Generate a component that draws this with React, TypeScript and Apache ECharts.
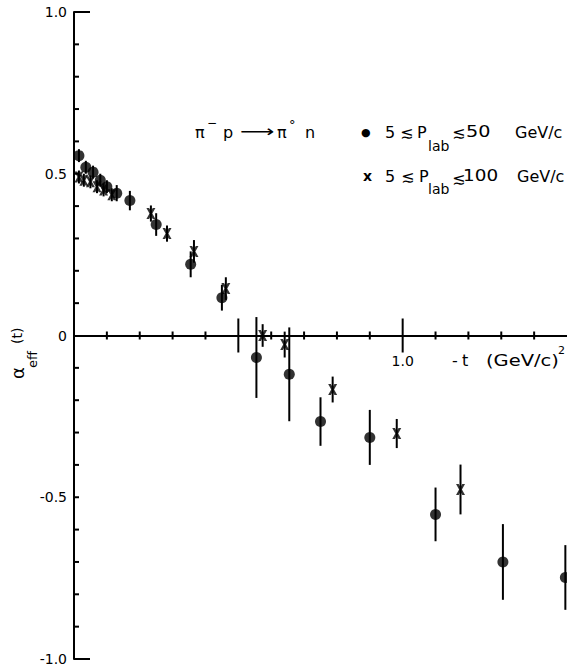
import React, { useEffect, useRef } from "react";
import * as echarts from "echarts";

// π⁻p → π⁰n effective trajectory α_eff(t) versus −t
// ● 5 ≲ P_lab ≲ 50 GeV/c
const circleT = [0.015, 0.036, 0.058, 0.08, 0.10, 0.13, 0.17, 0.25, 0.355, 0.45, 0.555, 0.655, 0.75, 0.90, 1.10, 1.305, 1.495];
const circleAlpha = [0.556, 0.52, 0.505, 0.48, 0.46, 0.44, 0.417, 0.343, 0.22, 0.117, -0.068, -0.12, -0.266, -0.315, -0.553, -0.70, -0.748];
const circleErr = [0.02, 0.02, 0.02, 0.02, 0.02, 0.025, 0.03, 0.035, 0.04, 0.04, 0.125, 0.145, 0.075, 0.085, 0.083, 0.117, 0.1];

// × 5 ≲ P_lab ≲ 100 GeV/c
const crossT = [0.015, 0.03, 0.05, 0.07, 0.09, 0.115, 0.234, 0.283, 0.365, 0.462, 0.574, 0.641, 0.787, 0.982, 1.176];
const crossAlpha = [0.49, 0.48, 0.475, 0.46, 0.45, 0.435, 0.377, 0.315, 0.26, 0.145, 0.0, -0.028, -0.167, -0.303, -0.476];
const crossErr = [0.02, 0.02, 0.02, 0.02, 0.02, 0.02, 0.025, 0.025, 0.035, 0.035, 0.035, 0.04, 0.04, 0.045, 0.077];

// axis tick positions
const xMinorTicks = [0.1, 0.2, 0.3, 0.4, 0.6, 0.7, 0.8, 0.9, 1.1, 1.2, 1.3, 1.4];
const xMajorTicks = [0.5, 1.0];
const yMinorTicks = [-0.9, -0.8, -0.7, -0.6, -0.5, -0.4, -0.3, -0.2, -0.1, 0.1, 0.2, 0.3, 0.4, 0.5, 0.6, 0.7, 0.8, 0.9];
const yEndTicks = [-1, 1];

const yTickValues = [-1, -0.5, 0, 0.5, 1];
const yTickLabels = ["-1.0", "-0.5", "0", "0.5", "1.0"];
const xTickLabelValues = [1.0];
const xTickLabels = ["1.0"];

const FONT = "DejaVu Sans";
const INK = "#000";

const CROSS_PATH =
  "path://M0,0 L3,0 L5,3.6 L7,0 L10,0 L6.6,6 L10,12 L7,12 L5,8.4 L3,12 L0,12 L3.4,6 Z";

function vTick(up: number, down: number) {
  return (_p: any, api: any) => {
    const p = api.coord([api.value(0), api.value(1)]);
    return {
      type: "line",
      shape: { x1: p[0], y1: p[1] - up, x2: p[0], y2: p[1] + down },
      style: { stroke: INK, lineWidth: 2 },
    };
  };
}

function hTick(len: number) {
  return (_p: any, api: any) => {
    const p = api.coord([api.value(0), api.value(1)]);
    return {
      type: "line",
      shape: { x1: p[0], y1: p[1], x2: p[0] + len, y2: p[1] },
      style: { stroke: INK, lineWidth: 2 },
    };
  };
}

function errorBar(_p: any, api: any) {
  const t = api.value(0);
  const a = api.coord([t, api.value(1)]);
  const b = api.coord([t, api.value(2)]);
  return {
    type: "line",
    shape: { x1: a[0], y1: a[1], x2: b[0], y2: b[1] },
    style: { stroke: INK, lineWidth: 2 },
  };
}

// tick label hanging under the x axis line (which sits at α = 0)
function xTickLabel(params: any, api: any) {
  const p = api.coord([api.value(0), 0]);
  return {
    type: "text",
    x: p[0],
    y: p[1] + 25,
    style: {
      text: xTickLabels[params.dataIndex],
      fontFamily: FONT,
      fontSize: 14,
      fill: INK,
      align: "center",
      verticalAlign: "middle",
    },
  };
}

function txt(text: string, x: number, y: number, size: number, extra: any = {}) {
  return {
    type: "text",
    x,
    y,
    ...(extra.node || {}),
    style: {
      text,
      fontFamily: FONT,
      fontSize: size,
      fill: INK,
      align: "left",
      verticalAlign: "middle",
      ...(extra.style || {}),
    },
  };
}

export default function App() {
  const ref = useRef<HTMLDivElement>(null);

  useEffect(() => {
    const chart = echarts.init(ref.current!, null, { renderer: "svg" });

    const circleBars = circleT.map((t, i) => [t, circleAlpha[i] - circleErr[i], circleAlpha[i] + circleErr[i]]);
    const crossBars = crossT.map((t, i) => [t, crossAlpha[i] - crossErr[i], crossAlpha[i] + crossErr[i]]);

    chart.setOption({
      animation: false,
      backgroundColor: "#fff",
      grid: { left: 74, right: 0, top: 12, bottom: 12, containLabel: false, outerBoundsMode: "none" },
      xAxis: {
        type: "value",
        min: 0,
        max: 1.5,
        interval: 0.5,
        axisLine: { show: true, onZero: true, lineStyle: { color: INK, width: 2 } },
        axisTick: { show: false },
        splitLine: { show: false },
        axisLabel: { show: false },
      },
      yAxis: {
        type: "value",
        min: -1,
        max: 1,
        interval: 0.5,
        axisLine: { show: true, onZero: false, lineStyle: { color: INK, width: 2 } },
        axisTick: { show: false },
        splitLine: { show: false },
        axisLabel: {
          margin: 7,
          color: INK,
          fontFamily: FONT,
          fontSize: 14,
          formatter: (v: number) => {
            const i = yTickValues.findIndex((y) => Math.abs(y - v) < 1e-9);
            return i >= 0 ? yTickLabels[i] : "";
          },
        },
      },
      series: [
        { type: "custom", silent: true, renderItem: vTick(4, 4), data: xMinorTicks.map((v) => [v, 0]), encode: { x: 0, y: 1 } },
        { type: "custom", silent: true, renderItem: vTick(17, 17), data: xMajorTicks.map((v) => [v, 0]), encode: { x: 0, y: 1 } },
        { type: "custom", silent: true, renderItem: hTick(5), data: yMinorTicks.map((v) => [0, v]), encode: { x: 0, y: 1 } },
        { type: "custom", silent: true, renderItem: hTick(16), data: yEndTicks.map((v) => [0, v]), encode: { x: 0, y: 1 } },
        { type: "custom", silent: true, renderItem: xTickLabel, data: xTickLabelValues.map((v) => [v, 0]), encode: { x: 0, y: 1 } },
        { type: "custom", silent: true, renderItem: errorBar, data: circleBars, encode: { x: 0, y: [1, 2] } },
        { type: "custom", silent: true, renderItem: errorBar, data: crossBars, encode: { x: 0, y: [1, 2] } },
        {
          type: "scatter",
          name: "5 ≲ P_lab ≲ 50 GeV/c",
          symbol: "circle",
          symbolSize: 11,
          itemStyle: { color: INK },
          data: circleT.map((t, i) => [t, circleAlpha[i]]),
        },
        {
          type: "scatter",
          name: "5 ≲ P_lab ≲ 100 GeV/c",
          symbol: CROSS_PATH,
          symbolSize: [9, 11],
          itemStyle: { color: INK },
          data: crossT.map((t, i) => [t, crossAlpha[i]]),
        },
      ],
      graphic: {
        elements: [
          // x-axis title
          txt("-", 452, 360, 16),
          txt("t", 462, 360, 16),
          txt("(GeV/c)", 486, 360, 16, { node: { scaleX: 1.22 } }),
          txt("2", 558, 350, 11),
          // y-axis title, reading upwards
          {
            type: "group",
            x: 17,
            y: 379,
            rotation: Math.PI / 2,
            children: [
              txt("α", 0, 0, 18),
              txt("eff", 11, 15, 13),
              txt("(t)", 35, 0, 14),
            ],
          },
          // reaction
          txt("π", 195, 132, 16),
          txt("−", 207, 123, 12),
          txt("p", 223, 132, 16),
          txt("⟶", 240, 132, 16, { node: { scaleX: 1.5 } }),
          txt("π", 277, 132, 16),
          txt("°", 289, 124, 13),
          txt("n", 305, 132, 16),
          // first data set key
          txt("●", 361, 132, 11),
          txt("5", 385, 132, 16),
          txt("≲", 400, 132, 16),
          txt("P", 417, 132, 16),
          txt("lab", 428, 146, 14),
          txt("≲", 452, 132, 16),
          txt("50", 466, 132, 16, { node: { scaleX: 1.2 } }),
          txt("GeV/c", 515, 132, 16),
          // second data set key
          txt("x", 363, 176, 14, { style: { fontWeight: "bold" } }),
          txt("5", 385, 176, 16),
          txt("≲", 401, 176, 16),
          txt("P", 419, 176, 16),
          txt("lab", 428, 189, 14),
          txt("≲", 452, 178, 16),
          txt("100", 463, 175, 16, { node: { scaleX: 1.15 } }),
          txt("GeV/c", 517, 176, 16),
        ],
      },
    });

    return () => chart.dispose();
  }, []);

  return (
    <div
      ref={ref}
      style={{ position: "absolute", left: 0, top: 0, width: 567, height: 671, background: "#fff" }}
    />
  );
}
